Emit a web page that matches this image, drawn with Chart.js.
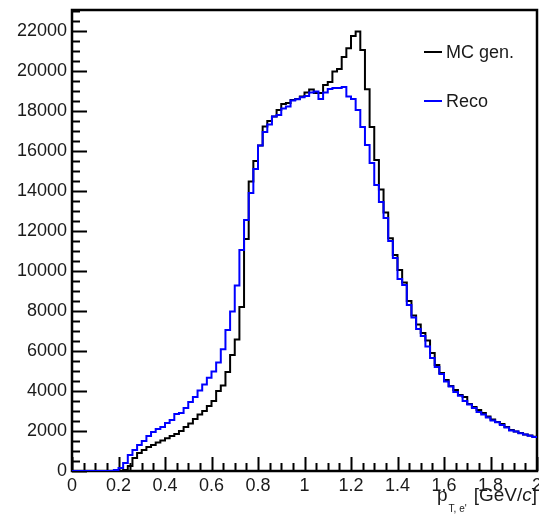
<!DOCTYPE html>
<html>
<head>
<meta charset="utf-8">
<script src="https://cdn.jsdelivr.net/npm/chart.js@4.4.1/dist/chart.umd.min.js"></script>
<style>
  html, body { margin: 0; padding: 0; background: #fff; }
</style>
</head>
<body>
<canvas id="ptChart" width="539" height="515"></canvas>
<script>
// binning of the histogram: 100 bins of 0.02 between 0 and 2
const xMin = 0, xMax = 2, binWidth = 0.02;

// bin contents, bin 0 .. 99
const mcGen = [
    0, 0, 0, 0, 0, 0, 0, 0, 0, 0,
    0, 50, 250, 650, 900, 1050, 1200, 1300, 1420, 1520,
    1640, 1750, 1850, 2000, 2200, 2370, 2600, 2830, 3000, 3250,
    3500, 4000, 4280, 4950, 5800, 6580, 8200, 11600, 14470, 15500,
    16270, 17220, 17500, 17730, 18050, 18350, 18400, 18550, 18600, 18720,
    18920, 19080, 18900, 18900, 19300, 19450, 19970, 20100, 20700, 21140,
    21750, 21970, 21050, 19090, 17200, 15550, 14070, 12930, 11640, 10800,
    10050, 9420, 8500, 7780, 7330, 6900, 6520, 5900, 5300, 4900,
    4550, 4250, 4050, 3800, 3700, 3350, 3200, 3050, 2900, 2720,
    2580, 2450, 2350, 2200, 2050, 1980, 1900, 1830, 1770, 1710
];
const reco = [
    0, 0, 0, 0, 0, 0, 0, 0, 0, 50,
    150, 400, 800, 1050, 1300, 1500, 1750, 1950, 2100, 2200,
    2400, 2550, 2850, 2900, 3150, 3450, 3700, 4020, 4330, 4660,
    4970, 5420, 6090, 7050, 7980, 9270, 11050, 12550, 13900, 15100,
    16270, 16950, 17320, 17720, 17800, 18130, 18220, 18520, 18590, 18690,
    18750, 18920, 18970, 18600, 18920, 19100, 19150, 19150, 19200, 18720,
    18600, 18050, 17200, 16300, 15400, 14300, 13450, 12650, 11500, 10650,
    9600, 9300, 8300, 7680, 7100, 6750, 6220, 5650, 5200, 4850,
    4470, 4230, 3950, 3760, 3500, 3320, 3150, 2950, 2820, 2680,
    2530, 2440, 2300, 2170, 2030, 1970, 1890, 1820, 1760, 1700
];

const xTicks = [0, 0.2, 0.4, 0.6, 0.8, 1, 1.2, 1.4, 1.6, 1.8, 2];
const yTicks = [0, 2000, 4000, 6000, 8000, 10000, 12000, 14000, 16000, 18000, 20000, 22000];
const yMax = 23050;
const xMinorStep = 0.05, yMinorStep = 500;

const FONT = '"Liberation Sans", Arial, sans-serif';
const TEXT = '#1a1a1a';

// lower bin edges + closing point, drawn as steps
function toSteps(vals) {
    const pts = vals.map((v, i) => ({ x: xMin + i * binWidth, y: v }));
    pts.push({ x: xMax, y: vals[vals.length - 1] });
    return pts;
}

// ROOT-like frame, inward ticks, axis title and legend
const rootFrame = {
    id: 'rootFrame',
    beforeDatasetsDraw(chart) {
        const { ctx, chartArea: a, scales: { x, y } } = chart;
        ctx.save();
        ctx.strokeStyle = '#000';
        ctx.lineWidth = 2;
        // minor + major ticks
        ctx.beginPath();
        for (let v = 0; v <= yMax; v += yMinorStep) {
            const py = Math.round(y.getPixelForValue(v)) + 0.5;
            const len = yTicks.includes(v) ? 15 : 8;
            ctx.moveTo(a.left, py); ctx.lineTo(a.left + len, py);
        }
        for (let i = 0; i <= Math.round((xMax - xMin) / xMinorStep); i++) {
            const v = +(xMin + i * xMinorStep).toFixed(2);
            const px = Math.round(x.getPixelForValue(v)) + 0.5;
            const len = xTicks.includes(v) ? 14 : 8;
            ctx.moveTo(px, a.bottom); ctx.lineTo(px, a.bottom - len);
        }
        ctx.stroke();
        ctx.lineWidth = 2.5;
        ctx.strokeRect(a.left, a.top, a.right - a.left, a.bottom - a.top);
        ctx.restore();
    },
    afterDraw(chart) {
        const { ctx, chartArea: a } = chart;
        ctx.save();
        ctx.fillStyle = TEXT;
        ctx.textBaseline = 'alphabetic';
        // axis title p_{T, e'} [GeV/c]
        const parts = [
            { t: 'p', f: '19px ' + FONT, dy: 0, gap: 1 },
            { t: "T, e'", f: '10px ' + FONT, dy: 11, gap: 7 },
            { t: '[GeV/', f: '19px ' + FONT, dy: 0, gap: 0 },
            { t: 'c', f: 'italic 19px ' + FONT, dy: 0, gap: 0 },
            { t: ']', f: '19px ' + FONT, dy: 0, gap: 0 }
        ];
        let w = 0;
        parts.forEach(p => { ctx.font = p.f; p.w = ctx.measureText(p.t).width; w += p.w + p.gap; });
        let cx = a.right - w;
        const base = a.bottom + 30;
        parts.forEach(p => { ctx.font = p.f; ctx.fillText(p.t, cx, base + p.dy); cx += p.w + p.gap; });

        // legend
        ctx.font = '18px ' + FONT;
        ctx.textBaseline = 'middle';
        const order = [1, 0];
        order.forEach((di, k) => {
            const ds = chart.data.datasets[di];
            const ly = a.top + 42 + k * 49;
            ctx.strokeStyle = ds.borderColor;
            ctx.lineWidth = 2;
            ctx.beginPath();
            ctx.moveTo(a.left + 352, ly); ctx.lineTo(a.left + 370, ly);
            ctx.stroke();
            ctx.fillText(ds.label, a.left + 374, ly + 1);
        });
        ctx.restore();
    }
};

new Chart(document.getElementById('ptChart').getContext('2d'), {
    type: 'line',
    data: {
        datasets: [
            { label: 'Reco', data: toSteps(reco), borderColor: '#0000ff', borderWidth: 2, stepped: true, pointRadius: 0, fill: false },
            { label: 'MC gen.', data: toSteps(mcGen), borderColor: '#000000', borderWidth: 2, stepped: true, pointRadius: 0, fill: false }
        ]
    },
    options: {
        responsive: false,
        devicePixelRatio: 1,
        animation: false,
        layout: { padding: { top: 10, right: 2, left: 0, bottom: 0 } },
        plugins: { legend: { display: false }, tooltip: { enabled: false } },
        scales: {
            x: {
                type: 'linear', min: xMin, max: xMax,
                afterBuildTicks: s => { s.ticks = xTicks.map(v => ({ value: v })); },
                afterFit: s => { s.height = 44; s.paddingLeft = 0; s.paddingRight = 0; },
                grid: { display: false, drawTicks: false },
                border: { display: false },
                ticks: {
                    padding: 4, maxRotation: 0, autoSkip: false, color: TEXT,
                    font: { family: FONT, size: 18 },
                    callback: v => String(+v.toFixed(2))
                }
            },
            y: {
                min: 0, max: yMax,
                afterBuildTicks: s => { s.ticks = yTicks.map(v => ({ value: v })); },
                afterFit: s => { s.width = 72; s.paddingTop = 0; s.paddingBottom = 0; },
                grid: { display: false, drawTicks: false },
                border: { display: false },
                ticks: {
                    padding: 5, autoSkip: false, color: TEXT,
                    font: { family: FONT, size: 18 },
                    callback: v => String(v)
                }
            }
        }
    },
    plugins: [rootFrame]
});
</script>
</body>
</html>
